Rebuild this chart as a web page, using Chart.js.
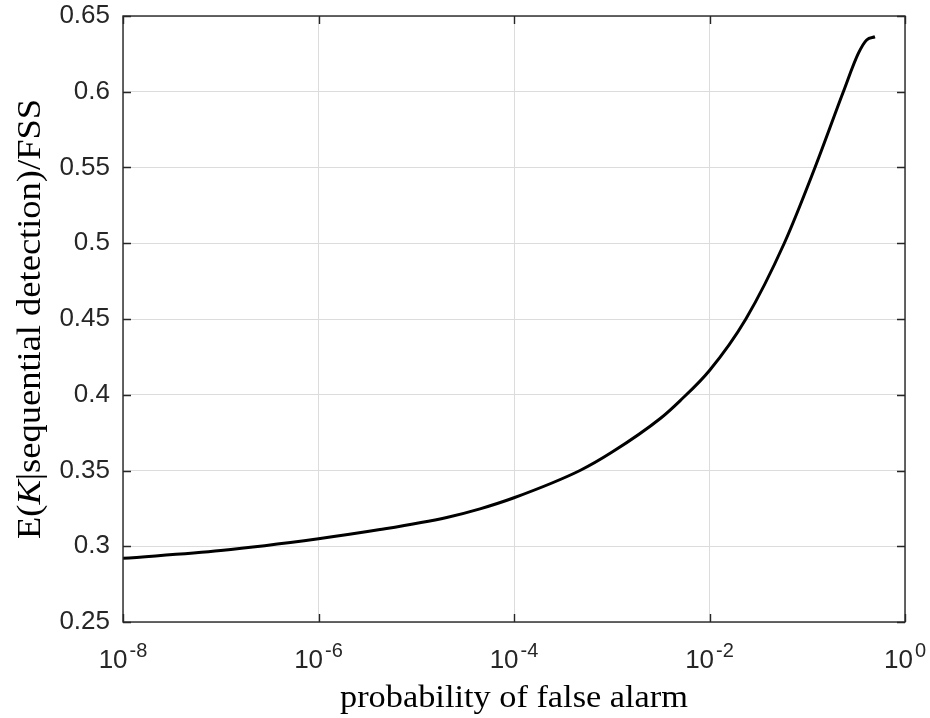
<!DOCTYPE html>
<html>
<head>
<meta charset="utf-8">
<script src="https://cdn.jsdelivr.net/npm/chart.js@4.4.1/dist/chart.umd.min.js"></script>
<style>
  body { margin: 0; background: #fff; }
  canvas { display: block; }
</style>
</head>
<body>
<canvas id="myChart" width="930" height="718"></canvas>
<script>
// probability of false alarm (x) and E(K|sequential detection)/FSS (y)
const pfa = [1e-8, 1e-7, 1e-6, 4.26e-6, 2.05e-5, 4.49e-5, 1e-4, 4.73e-4, 1e-3, 3.16e-3, 4.99e-3,
             1e-2, 2.355e-2, 5.82e-2, 0.12, 0.234, 0.333, 0.405, 0.493];
const ratio = [0.292, 0.2972, 0.305, 0.311, 0.319, 0.3247, 0.332, 0.350, 0.362, 0.3845, 0.396,
               0.416, 0.450, 0.500, 0.550, 0.600, 0.6253, 0.6342, 0.6363];

// ticks
const xTicks = [1e-8, 1e-6, 1e-4, 1e-2, 1];
const xTickExp = ['-8', '-6', '-4', '-2', '0'];
const yTicks = [0.25, 0.3, 0.35, 0.4, 0.45, 0.5, 0.55, 0.6, 0.65];

const xTitle = 'probability of false alarm';
// y title split so K can be italic
const yTitleParts = [['E(', false], ['K', true], ['|sequential detection)/FSS', false]];

const axisColor = '#262626';
const gridColor = '#dcdcdc';

// draws the box, the inward ticks, the 10^n labels and both axis titles
const frame = {
  id: 'frame',
  afterDraw(chart) {
    const ctx = chart.ctx;
    const a = chart.chartArea;
    const xs = chart.scales.x, ys = chart.scales.y;
    ctx.save();
    ctx.strokeStyle = axisColor;
    ctx.lineWidth = 1.4;
    ctx.strokeRect(a.left, a.top, a.right - a.left, a.bottom - a.top);

    ctx.beginPath();
    xTicks.forEach(v => {
      const px = Math.round(xs.getPixelForValue(v)) + 0.5;
      ctx.moveTo(px, a.bottom); ctx.lineTo(px, a.bottom - 8);
      ctx.moveTo(px, a.top); ctx.lineTo(px, a.top + 8);
    });
    yTicks.forEach(v => {
      const py = Math.round(ys.getPixelForValue(v)) + 0.5;
      ctx.moveTo(a.left, py); ctx.lineTo(a.left + 8, py);
      ctx.moveTo(a.right, py); ctx.lineTo(a.right - 8, py);
    });
    ctx.stroke();

    // x tick labels with superscript exponent
    ctx.fillStyle = axisColor;
    ctx.textBaseline = 'alphabetic';
    ctx.textAlign = 'left';
    const big = '26px "Liberation Sans", Arial, sans-serif';
    const small = '20px "Liberation Sans", Arial, sans-serif';
    xTicks.forEach((v, i) => {
      const px = xs.getPixelForValue(v);
      ctx.font = big;
      const w1 = ctx.measureText('10').width;
      ctx.font = small;
      const w2 = ctx.measureText(xTickExp[i]).width;
      const left = px - (w1 + 2 + w2) / 2;
      ctx.font = big;
      ctx.fillText('10', left, 668);
      ctx.font = small;
      ctx.fillText(xTickExp[i], left + w1 + 2, 657);
    });

    // x title
    ctx.fillStyle = '#000';
    ctx.font = '32px "Liberation Serif", "Times New Roman", serif';
    const wx = ctx.measureText(xTitle).width;
    const sx = 348 / wx;
    ctx.save();
    ctx.translate((a.left + a.right) / 2, 707);
    ctx.scale(sx, 1);
    ctx.textAlign = 'center';
    ctx.fillText(xTitle, 0, 0);
    ctx.restore();

    // y title, rotated
    const fontFor = it => (it ? 'italic ' : '') + '33px "Liberation Serif", "Times New Roman", serif';
    let total = 0;
    yTitleParts.forEach(p => { ctx.font = fontFor(p[1]); total += ctx.measureText(p[0]).width; });
    const sy = 440 / total;
    ctx.save();
    ctx.translate(40, (a.top + a.bottom) / 2);
    ctx.rotate(-Math.PI / 2);
    ctx.scale(sy, 1);
    ctx.textAlign = 'left';
    let x = -total / 2;
    yTitleParts.forEach(p => {
      ctx.font = fontFor(p[1]);
      ctx.fillText(p[0], x, 0);
      x += ctx.measureText(p[0]).width;
    });
    ctx.restore();

    ctx.restore();
  }
};

const ctx = document.getElementById('myChart').getContext('2d');
const chart = new Chart(ctx, {
  type: 'line',
  data: {
    datasets: [{
      data: pfa.map((p, i) => ({ x: p, y: ratio[i] })),
      borderColor: '#000',
      borderWidth: 3,
      pointRadius: 0,
      fill: false,
      cubicInterpolationMode: 'monotone'
    }]
  },
  options: {
    responsive: false,
    animation: false,
    devicePixelRatio: 1,
    layout: { padding: { left: 0, top: 16, right: 25, bottom: 0 } },
    plugins: { legend: { display: false }, tooltip: { enabled: false } },
    scales: {
      x: {
        type: 'logarithmic',
        min: 1e-8,
        max: 1,
        afterBuildTicks: scale => { scale.ticks = xTicks.map(v => ({ value: v })); },
        afterFit: scale => { scale.height = 96; scale.paddingLeft = 0; scale.paddingRight = 0; },
        ticks: { display: false },
        grid: { color: gridColor, lineWidth: 1, drawTicks: false },
        border: { display: false }
      },
      y: {
        min: 0.25,
        max: 0.65,
        afterBuildTicks: scale => { scale.ticks = yTicks.map(v => ({ value: v })); },
        afterFit: scale => { scale.width = 123; scale.paddingTop = 0; scale.paddingBottom = 0; },
        ticks: {
          color: axisColor,
          padding: 13,
          font: { family: '"Liberation Sans", Arial, sans-serif', size: 26 },
          callback: v => String(Math.round(v * 100) / 100)
        },
        grid: { color: gridColor, lineWidth: 1, drawTicks: false },
        border: { display: false }
      }
    }
  },
  plugins: [frame]
});
</script>
</body>
</html>
